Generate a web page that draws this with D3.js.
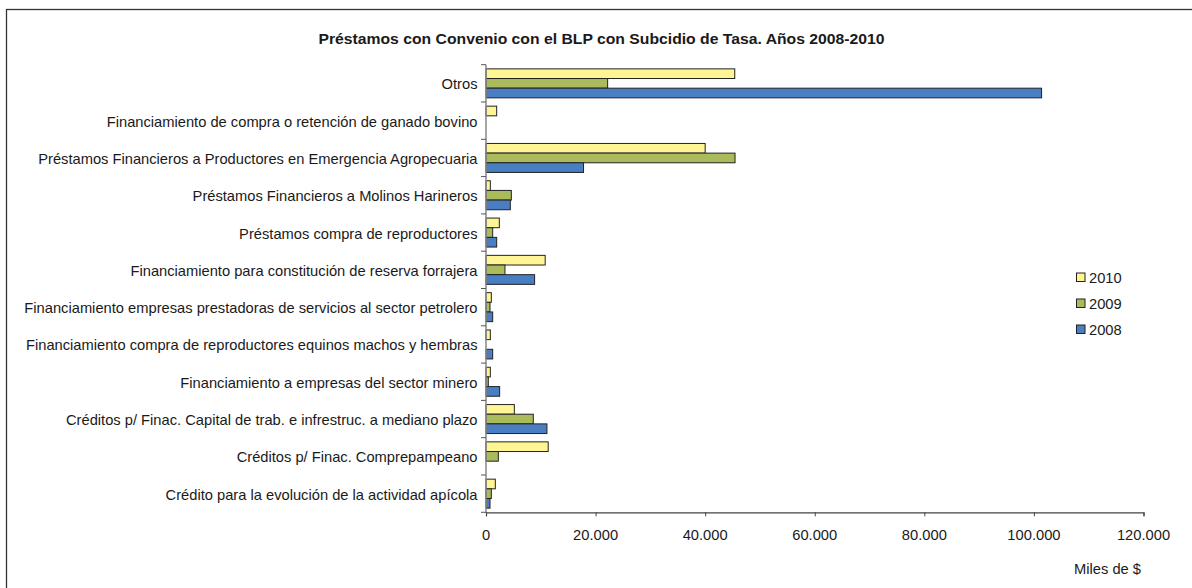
<!DOCTYPE html>
<html><head><meta charset="utf-8">
<script src="https://cdn.jsdelivr.net/npm/d3@7"></script>
<style>body{margin:0;background:#fff;}svg{display:block;font-family:"Liberation Sans",Arial,sans-serif;}</style>
</head><body>
<svg id="c" width="1192" height="588"></svg>
<script>
const categories = [
  "Otros",
  "Financiamiento de compra o retención de ganado bovino",
  "Préstamos Financieros a Productores en Emergencia Agropecuaria",
  "Préstamos Financieros a Molinos Harineros",
  "Préstamos compra de reproductores",
  "Financiamiento para constitución de reserva forrajera",
  "Financiamiento empresas prestadoras de servicios al sector petrolero",
  "Financiamiento compra de reproductores equinos machos y hembras",
  "Financiamiento a empresas del sector minero",
  "Créditos p/ Finac. Capital de trab. e infrestruc. a mediano plazo",
  "Créditos p/ Finac. Comprepampeano",
  "Crédito para la evolución de la actividad apícola"
];
const years = ["2010", "2009", "2008"];
const values2010 = [45400, 1950, 40000, 790, 2430, 10800, 970, 790, 790, 5170, 11350, 1700];
const values2009 = [22200, 0, 45450, 4620, 1220, 3460, 730, 0, 420, 8630, 2250, 970];
const values2008 = [101400, 0, 17800, 4440, 1950, 8870, 1220, 1220, 2490, 11120, 0, 730];
const xTicks = [0, 20000, 40000, 60000, 80000, 100000, 120000];
const colors = ["#FFF594", "#A9BB5B", "#4A7EC2"];

(function () {
const series = [values2010, values2009, values2008];
const svg = d3.select("#c");
const K = 1.05; // horizontal stretch of the reference's text

function txt(g, x, y, s, size, anchor, bold) {
  return g.append("text")
    .attr("transform", `translate(${x},${y}) scale(${K},1)`)
    .attr("text-anchor", anchor).attr("font-size", size + "px")
    .attr("font-weight", bold ? "bold" : "normal").attr("fill", "#1a1a1a").text(s);
}

// outer border
svg.append("rect").attr("x", 6.5).attr("y", 9.5).attr("width", 1200).attr("height", 600)
  .attr("fill", "none").attr("stroke", "#333").attr("stroke-width", 1.3);

const pLeft = 486, pRight = 1143.5, pTop = 64.7, pBottom = 512.3;
const x = d3.scaleLinear().domain([0, 120000]).range([pLeft, pRight]);
const y = d3.scaleBand().domain(categories).range([pTop, pBottom]).paddingInner(0).paddingOuter(0);
const inner = d3.scaleBand().domain(years).range([0, y.bandwidth()]).paddingOuter(0.43).paddingInner(0);

// title
txt(svg, 601.5, 44, "Préstamos con Convenio con el BLP con Subcidio de Tasa. Años 2008-2010", 15, "middle", true);

// bars
categories.forEach((c, i) => {
  years.forEach((yr, j) => {
    const v = series[j][i];
    if (v <= 0) return;
    svg.append("rect")
      .attr("x", x(0)).attr("y", y(c) + inner(yr))
      .attr("width", x(v) - x(0)).attr("height", inner.bandwidth())
      .attr("fill", colors[j]).attr("stroke", "#222").attr("stroke-width", 1);
  });
});

// y axis
const gy = svg.append("g").attr("transform", `translate(${pLeft},0)`);
gy.append("line").attr("x1", 0).attr("x2", 0).attr("y1", pTop).attr("y2", pBottom).attr("stroke", "#888").attr("stroke-width", 1.5);
const yTickPos = categories.map(c => y(c)).concat([pBottom]);
gy.selectAll("line.t").data(yTickPos).enter().append("line").attr("class", "t")
  .attr("x1", -5).attr("x2", 0).attr("y1", d => d).attr("y2", d => d).attr("stroke", "#555");
const gl = svg.append("g");
categories.forEach(c => txt(gl, 477.5, y(c) + y.bandwidth() / 2 + 6, c, 14, "end", false));

// x axis
const xAxis = d3.axisBottom(x).tickValues(xTicks).tickSize(4).tickFormat("");
const gx = svg.append("g").attr("transform", `translate(0,${pBottom})`).call(xAxis);
gx.select(".domain").attr("stroke", "#444").attr("stroke-width", 1.2);
gx.selectAll(".tick line").attr("stroke", "#444");
const fmt = d => d3.format(",")(d).replace(/,/g, ".");
xTicks.forEach(t => txt(svg, x(t), 540, fmt(t), 14, "middle", false));

txt(svg, 1141, 574, "Miles de $", 14, "end", false);

// legend
const lg = svg.append("g");
years.forEach((yr, j) => {
  const cy = 277.5 + j * 26;
  lg.append("rect").attr("x", 1076.5).attr("y", cy - 4.5).attr("width", 8.5).attr("height", 8.5)
    .attr("fill", colors[j]).attr("stroke", "#222").attr("stroke-width", 1);
  txt(lg, 1089, cy + 5, yr, 14, "start", false);
});
})();
</script>
</body></html>
